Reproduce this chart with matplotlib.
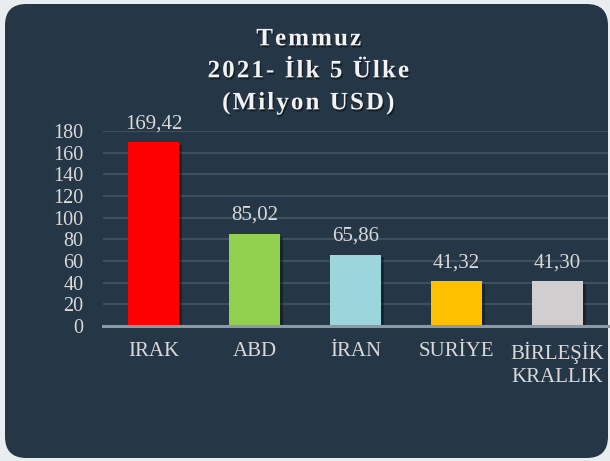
import matplotlib.pyplot as plt
import matplotlib.patheffects as pe
from matplotlib.patches import FancyBboxPatch

# data
countries = ['IRAK', 'ABD', 'İRAN', 'SURİYE', 'BİRLEŞİK\nKRALLIK']
values = [169.42, 85.02, 65.86, 41.32, 41.30]
value_labels = ['169,42', '85,02', '65,86', '41,32', '41,30']
bar_colors = ['#FF0000', '#92D050', '#9DD5DC', '#FFC000', '#D0CECE']
yticks = [0, 20, 40, 60, 80, 100, 120, 140, 160, 180]
title_lines = ['Temmuz', '2021- İlk 5 Ülke', '(Milyon USD)']

bg = '#253746'
txt = '#D9D9D9'

plt.rcParams['font.family'] = ['Liberation Serif', 'DejaVu Serif']

fig = plt.figure(figsize=(6.1, 4.61), dpi=100)
fig.patch.set_facecolor('#E8EEF0')

# rounded dark panel behind everything
panel = FancyBboxPatch((5 / 610, 3 / 461), 603 / 610, 454 / 461,
                       boxstyle='round,pad=0,rounding_size=0.035',
                       transform=fig.transFigure, facecolor=bg,
                       edgecolor='none', mutation_aspect=610 / 461, zorder=-5)
fig.patches.append(panel)

ax = fig.add_axes([103 / 610, 135 / 461, 505 / 610, 195 / 461])
ax.set_facecolor('none')

shadow = [pe.SimplePatchShadow(offset=(2, -2), shadow_rgbFace='black', alpha=0.35), pe.Normal()]
bars = ax.bar(range(len(countries)), values, width=0.505, color=bar_colors, zorder=3)
for b in bars:
    b.set_path_effects(shadow)

for i, (v, lab) in enumerate(zip(values, value_labels)):
    ax.annotate(lab, (i, v), xytext=(0, 6.5), textcoords='offset points',
                ha='center', va='bottom', color=txt, fontsize=15)

ax.set_xlim(-0.5, len(countries) - 0.5)
ax.set_ylim(0, 180)
ax.set_yticks(yticks)
ax.set_xticks(range(len(countries)))
ax.set_xticklabels(countries, linespacing=1.3)
ax.tick_params(axis='y', length=0, pad=14, labelsize=14.5, labelcolor=txt)
ax.tick_params(axis='x', length=0, pad=11.5, labelsize=15, labelcolor=txt)
ax.grid(axis='y', color='#3D4E5D', linewidth=1.6, zorder=0)
for s in ['top', 'right', 'left']:
    ax.spines[s].set_visible(False)
ax.spines['bottom'].set_color('#8E99A3')
ax.spines['bottom'].set_linewidth(2.2)
ax.spines['bottom'].set_zorder(4)

# title has letter spacing in the original -> hair spaces between letters
title = '\n'.join('\u200a'.join(line) for line in title_lines)
fig.text(0.506, 1 - 71 / 461, title, ha='center', va='center',
         color='#F2F2F2', fontsize=18, fontweight='bold', linespacing=1.5,
         path_effects=[pe.withSimplePatchShadow(offset=(1, -1.5), shadow_rgbFace='black', alpha=0.45)])

fig.savefig('out.png', dpi=100, facecolor=fig.get_facecolor())
